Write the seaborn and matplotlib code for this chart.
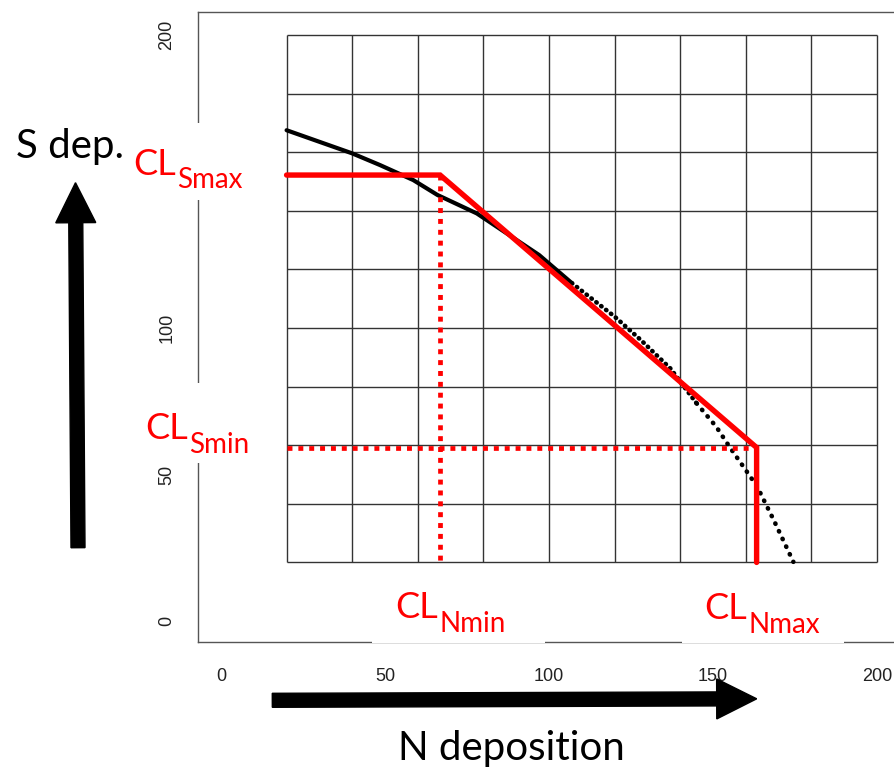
import matplotlib
matplotlib.use("Agg")
import matplotlib.pyplot as plt
import seaborn as sns
import pandas as pd
from matplotlib.patches import Rectangle, FancyArrow
from matplotlib.transforms import Affine2D

# ---------------- data ----------------
curve_x = [20, 40, 48.5, 58.6, 66, 78, 97, 107, 120, 128, 137, 145, 151, 155, 160, 163.5, 168.5, 174.5]
curve_y = [167.5, 159.6, 155.6, 150.5, 145.4, 139.1, 124.9, 115.3, 103.9, 95.9, 86.2, 74.3, 66.3, 59.5, 51.5, 45.8, 34.5, 20.2]

CL_Smax = 152.2
CL_Smin = 59.2
CL_Nmin = 66.8
CL_Nmax = 163.3
grid_min, grid_max = 20, 200

cl_x = [grid_min, CL_Nmin, CL_Nmax, CL_Nmax]
cl_y = [CL_Smax, CL_Smax, CL_Smin, grid_min]

x_ticks = [0, 50, 100, 150, 200]
y_ticks = [0, 50, 100, 150, 200]
x_tick_labels = ["0", "50", "100", "150", "200"]
y_tick_labels = ["0", "50", "100", "", "200"]   # 150 is covered by the CL_Smax label
grid_vals = list(range(20, 201, 20))
sub_labels = ["Smax", "Smin", "Nmin", "Nmax"]

# ---------------- figure ----------------
sns.set_style("white")
plt.rcParams["font.family"] = ["Liberation Sans", "DejaVu Sans"]

fig = plt.figure(figsize=(8.95, 7.70), dpi=100)
W, H = 895, 770
pix = Affine2D().scale(1 / W, -1 / H).translate(0, 1) + fig.transFigure

ax_l, ax_r, ax_t, ax_b = 197.7, 895, 12, 641.7
ax = fig.add_axes([ax_l / W, (H - ax_b) / H, (ax_r - ax_l) / W, (ax_b - ax_t) / H])
ax.set_xlim(-7.10, 205.49)
ax.set_ylim(-7.06, 207.85)

# grid box
ax.vlines(grid_vals, grid_min, grid_max, color="#333333", lw=1.0, zorder=1)
ax.hlines(grid_vals, grid_min, grid_max, color="#333333", lw=1.0, zorder=1)

# black curve: dense part (solid-looking), then dotted parts
df = pd.DataFrame({"x": curve_x, "y": curve_y})
seg1 = df.iloc[:8]
seg2 = df.iloc[7:12]
seg3 = df.iloc[11:]
sns.lineplot(data=seg1, x="x", y="y", sort=False, estimator=None, color="black", lw=3.0, ax=ax, zorder=3)
sns.lineplot(data=seg2, x="x", y="y", sort=False, estimator=None, color="black", lw=3.3, ax=ax, zorder=3,
             linestyle=(0, (0.1, 1.25)), dash_capstyle="round")
sns.lineplot(data=seg3, x="x", y="y", sort=False, estimator=None, color="black", lw=3.3, ax=ax, zorder=3,
             linestyle=(0, (0.1, 1.75)), dash_capstyle="round")

# red dotted guide lines
sns.lineplot(x=[CL_Nmin, CL_Nmin], y=[CL_Smax, grid_min], sort=False, estimator=None, color="red", lw=3.4,
             linestyle=(0, (1.05, 1.25)), ax=ax, zorder=4)
sns.lineplot(x=[grid_min, CL_Nmax], y=[CL_Smin, CL_Smin], sort=False, estimator=None, color="red", lw=3.4,
             linestyle=(0, (1.05, 1.25)), ax=ax, zorder=4)

# red critical load function
sns.lineplot(x=cl_x, y=cl_y, sort=False, estimator=None, color="red", lw=3.9, ax=ax, zorder=5,
             solid_joinstyle="miter")

ax.set_xlabel("")
ax.set_ylabel("")
if ax.get_legend() is not None:
    ax.get_legend().remove()

# axes styling (R-like)
for s in ["left", "bottom", "top"]:
    ax.spines[s].set_color("#555555")
    ax.spines[s].set_linewidth(1.0)
ax.spines["right"].set_visible(False)
ax.set_xticks(x_ticks)
ax.set_yticks(y_ticks)
ax.set_xticklabels(x_tick_labels)
ax.set_yticklabels(y_tick_labels)
ax.tick_params(axis="both", direction="out", length=8, width=1.0, color="#555555",
               labelsize=13, labelcolor="#222222")
ax.tick_params(axis="x", pad=11)
ax.tick_params(axis="y", pad=8, labelrotation=90)
for lab in ax.get_yticklabels():
    lab.set_va("center")
ax.grid(False)

# white boxes that interrupt the frame under the labels
for (x0, y0, x1, y1) in [(125, 123, 258, 200), (135, 383, 268, 463), (372, 585, 545, 642.5), (682, 585, 844, 642.5)]:
    fig.add_artist(Rectangle((x0, y0), x1 - x0, y1 - y0, transform=pix, facecolor="white",
                             edgecolor="none", zorder=2))

# CL labels
lab_font = "Lato"
cl_pos = [(133.3, 175, 176.7), (145, 439.3, 189.3), (395, 618, 440), (704, 619.3, 748.3)]
for (xc, yb, xs), sub in zip(cl_pos, sub_labels):
    fig.text(xc, yb, "CL", transform=pix, fontsize=26, family=lab_font, color="red",
             ha="left", va="baseline", zorder=6)
    fig.text(xs, yb + 13.5, sub, transform=pix, fontsize=20, family=lab_font, color="red",
             ha="left", va="baseline", zorder=6)

# axis annotations
fig.text(16, 158, "S dep.", transform=pix, fontsize=29, family=lab_font, color="black",
         ha="left", va="baseline", zorder=6)
fig.text(398, 760, "N deposition", transform=pix, fontsize=29, family=lab_font, color="black",
         ha="left", va="baseline", zorder=6)

# big arrows
fig.add_artist(FancyArrow(78, 547.7, -2.5, -365, width=14, head_width=40, head_length=40,
                          length_includes_head=True, transform=pix, color="black", zorder=6))
fig.add_artist(FancyArrow(272.3, 700.3, 484.4, -1.5, width=14, head_width=40, head_length=40,
                          length_includes_head=True, transform=pix, color="black", zorder=6))

fig.savefig("out.png", dpi=100)
